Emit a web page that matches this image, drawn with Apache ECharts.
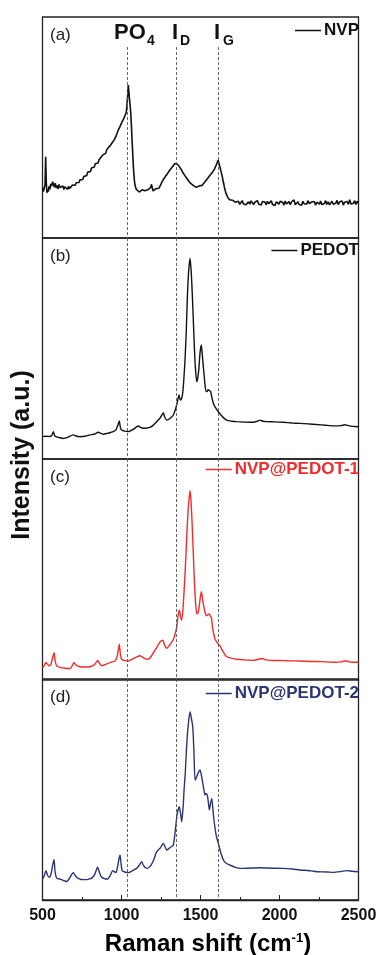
<!DOCTYPE html>
<html>
<head>
<meta charset="utf-8">
<script src="https://cdn.jsdelivr.net/npm/echarts@6/dist/echarts.min.js"></script>
<style>
html, body { margin: 0; padding: 0; background: #fff; }
#main { width: 381px; height: 955px; }
</style>
</head>
<body>
<div id="main"></div>
<script>
// spectra: [Raman shift (cm-1), intensity in a.u. (0-100 inside each panel)]
const nvp = [
  [500,22.6],[506,21],[512,23],[516,24],[520,36.8],[524,25],[528,20.5],[533,22],[537,21],[542,23.5],[547,22],[552,24.5],
  [558,23.5],[564,25.5],[569,24.5],[575,23],[581,24.8],[587,22.6],[593,23.8],[599,22.2],[605,24.2],[611,22.8],[617,23.6],
  [623,22],[629,23.5],[635,21.9],[641,23.2],[647,22.4],[653,23.6],[659,22],[665,23.4],[671,22.3],[677,23.2],[683,22.8],
  [689,24],[695,23.3],[701,24.5],[707,23.9],[713,25],[719,24.3],[725,25.6],[731,25.1],[737,26.3],[743,25.8],[749,27],
  [755,26.5],[761,27.8],[767,27.2],[773,28.6],[780,28.3],[786,29.8],[792,29.2],[798,30.6],[804,30.1],[810,31.7],[816,31.2],
  [822,32.5],[828,32.1],[834,33.6],[840,33],[846,34.4],[852,33.9],[858,35.4],[864,35],[870,36.5],[876,36.1],[882,37.6],
  [888,37.2],[894,38.5],[900,38.3],[906,39.8],[912,39.4],[918,41],[924,40.6],[930,42],[936,41.7],[942,43.2],[948,43],
  [954,44.4],[960,44.6],[966,46.2],[972,46.8],[978,48.6],[984,49],[990,50.4],[996,51.2],[1002,52.3],[1008,52.6],[1014,54],
  [1020,54.7],[1026,56.1],[1031,57.3],[1035,60.5],[1039,64.8],[1043,69.2],[1047,66],[1051,62.5],[1055,59.8],[1059,56],
  [1063,50.5],[1067,44],[1071,38.2],[1075,32.5],[1079,28.2],[1083,25.1],[1088,23.2],[1094,22],[1100,21.3],[1106,21.9],
  [1112,20.8],[1118,21.6],[1124,20.9],[1130,21.8],[1136,21.2],[1142,22.1],[1148,21.4],[1154,21.9],[1160,21.2],[1166,21.8],
  [1172,21.5],[1178,22.4],[1184,22.8],[1190,24.3],[1195,22.6],[1200,21.3],[1206,21.8],[1212,21.5],[1218,22.3],[1224,22],
  [1230,22.8],[1236,22.5],[1242,23.4],[1248,24],[1254,25.1],[1260,25.6],[1266,26.6],[1272,26.8],[1278,27.9],[1284,28.1],
  [1290,29],[1296,29.5],[1302,30.4],[1308,30.6],[1314,31.5],[1320,31.8],[1326,32.6],[1332,32.9],[1338,33.7],[1344,33.5],
  [1349,34.2],[1354,33.4],[1360,33.1],[1366,32.3],[1372,31.9],[1378,31],[1384,30.4],[1390,29.4],[1396,29],[1402,28.1],
  [1408,27.6],[1414,26.9],[1420,26.5],[1426,25.7],[1432,25.4],[1438,24.7],[1444,24.5],[1450,23.8],[1456,23.7],[1462,23.2],
  [1468,23.4],[1474,22.9],[1480,23.3],[1486,23],[1492,23.6],[1498,23.4],[1504,24],[1510,23.8],[1516,24.5],[1522,24.6],
  [1528,25.4],[1534,25.6],[1540,26.5],[1546,26.9],[1552,27.6],[1558,28],[1564,28.7],[1570,29.1],[1576,29.8],[1582,30.3],
  [1588,31.2],[1594,32],[1600,33.1],[1606,34.2],[1611,35.3],[1616,34.1],[1621,32.6],[1626,31.3],[1631,29.8],[1636,28.4],
  [1641,26.6],[1646,24.9],[1651,23.1],[1656,21.6],[1661,20.3],[1666,19.4],[1672,18.5],[1678,17.9],[1684,17.3],[1690,17.4],
  [1696,16.8],[1702,17.1],[1708,16.3],[1714,16.9],[1720,16.2],[1726,16.7],
  [1732,15.9],[1740,16.6],[1748,15.2],[1756,15.8],[1764,16.9],[1772,15.4],[1780,16.1],[1788,15.0],[1796,15.7],[1804,16.4],
  [1812,15.3],[1820,16.8],[1828,15.9],[1836,15.1],[1844,16.2],[1852,15.6],[1860,16.9],[1868,15.4],[1876,16.0],[1884,14.9],
  [1892,16.5],[1900,15.8],[1908,16.3],[1916,15.0],[1924,16.6],[1932,15.5],[1940,15.9],[1948,16.8],[1956,15.2],[1964,16.1],
  [1972,14.7],[1980,16.4],[1988,15.7],[1996,15.3],[2004,16.6],[2012,15.8],[2020,16.2],[2028,14.9],[2036,16.7],[2044,15.4],
  [2052,15.9],[2060,16.5],[2068,15.1],[2076,16.3],[2084,15.6],[2092,17.2],[2100,15.0],[2108,15.8],[2116,16.4],[2124,15.2],
  [2132,16.0],[2140,14.8],[2148,16.6],[2156,15.5],[2164,16.1],[2172,15.3],[2180,16.9],[2188,15.6],[2196,15.0],[2204,16.3],
  [2212,15.7],[2220,16.5],[2228,14.9],[2236,16.2],[2244,15.8],[2252,15.3],[2260,16.7],[2268,15.1],[2276,16.0],[2284,15.6],
  [2292,16.9],[2300,15.2],[2308,16.4],[2316,15.0],[2324,15.9],[2332,16.6],[2340,15.3],[2348,16.1],[2356,15.7],[2364,17.0],
  [2372,15.1],[2380,16.3],[2388,15.5],[2396,16.8],[2404,14.9],[2412,16.2],[2420,15.6],[2428,16.5],[2436,15.2],[2444,17.3],
  [2452,15.4],[2460,16.0],[2468,15.7],[2476,16.9],[2484,15.2],[2492,16.6],[2500,15.8]
];
const pedot = [
  [500,10.1],[520,10.3],[547,10.2],[560,10.8],[569,12.4],[577,10.6],[585,10.1],[610,9.6],[632,9.3],[660,9.8],[695,10.9],
  [715,10.3],[737,10.1],[770,10.3],[801,10.9],[830,11.3],[853,12.1],[870,11.6],[885,11.2],[910,11.6],[935,12.1],[948,12.4],
  [965,13.2],[978,15.5],[986,17.2],[993,14.2],[1001,13.1],[1020,12.6],[1043,12.4],[1060,12.9],[1075,13.4],[1095,14.5],
  [1107,14.9],[1120,14.3],[1138,13.9],[1160,14],[1180,14.3],[1200,15.2],[1223,16.9],[1245,18.6],[1258,20.2],[1265,21],
  [1272,19.3],[1286,17.6],[1300,18],[1315,18.9],[1328,19.9],[1340,22.2],[1349,24.4],[1357,27],[1364,29],[1369,27.5],
  [1374,26.7],[1381,27.5],[1387,29.7],[1394,35.5],[1402,44.8],[1410,58],[1417,73.4],[1425,85],[1434,90.8],[1440,86],
  [1446,78],[1454,64],[1461,50.8],[1468,41],[1476,35],[1482,36.5],[1489,40.3],[1497,48],[1505,51.6],[1511,47.5],
  [1518,41.8],[1526,35.5],[1535,30.5],[1542,30.6],[1549,31.4],[1556,31],[1564,30.5],[1572,27.8],[1581,25.2],[1595,23.2],
  [1613,21.4],[1635,19.5],[1665,17.6],[1700,17.1],[1729,16.9],[1780,16.7],[1834,16.6],[1860,17.1],[1876,17.6],[1895,17.1],
  [1918,16.9],[1970,16.8],[2024,16.6],[2080,16.3],[2130,16.1],[2180,15.9],[2235,15.6],[2290,15.3],[2341,15],[2390,15.1],
  [2412,15.5],[2425,15.3],[2450,14.9],[2475,14.7],[2500,14.6]
];
const nvpPedot1 = [
  [500,5.6],[510,6.5],[522,7.9],[532,7.1],[543,6.4],[555,7.4],[565,10.5],[573,12.4],[580,8.5],[590,6.4],[615,5.6],[642,5.3],
  [674,5.2],[688,6.4],[699,7.9],[712,6.8],[737,6],[770,5.9],[801,6],[830,7],[849,8.9],[860,7.6],[874,6.4],[900,7.1],
  [927,7.9],[959,8.6],[972,10.5],[980,13.8],[986,16.2],[993,11.5],[1001,9.4],[1020,8.8],[1043,8.6],[1070,9.5],[1096,10.5],
  [1118,11],[1130,10.5],[1150,9.6],[1170,9.4],[1195,11.5],[1223,14.7],[1245,17.3],[1261,18],[1272,16],[1286,14.4],
  [1305,15.8],[1328,18.3],[1340,21],[1349,23.8],[1358,29],[1366,31.7],[1374,28.6],[1381,27],[1390,33],[1402,48],[1410,60],
  [1417,70.8],[1425,80],[1434,85.6],[1440,81],[1446,72.3],[1454,58],[1461,45],[1468,36],[1476,29.9],[1484,30.3],
  [1491,32.9],[1499,37.5],[1506,40],[1514,36],[1522,32.9],[1530,30.2],[1539,29.1],[1548,29.6],[1556,29.9],[1563,28.8],
  [1569,28.3],[1577,23.5],[1592,18.5],[1610,16.5],[1623,15.5],[1645,12.5],[1666,10.5],[1700,9.8],[1729,9.4],[1780,9.1],
  [1834,8.9],[1860,9.3],[1887,9.7],[1915,9.1],[1940,8.9],[2000,8.8],[2060,8.7],[2130,8.6],[2200,8.4],[2270,8.3],
  [2341,8],[2390,8.2],[2410,8.6],[2425,8.6],[2450,8.1],[2500,8]
];
const nvpPedot2 = [
  [500,9.4],[511,11],[522,13.3],[532,11.2],[543,10.3],[555,12],[565,16],[573,18.4],[580,12.5],[590,9.9],[605,9.5],
  [621,9.2],[640,8.6],[653,8.4],[668,9.5],[684,11.5],[695,12.4],[710,10.8],[737,9.4],[760,9.2],[780,9.2],[795,9.5],
  [811,9.9],[830,11.5],[849,14.8],[860,12.5],[874,10.3],[895,9.6],[910,9.4],[928,11],[944,13.3],[955,12.8],[965,12.4],
  [975,15],[985,19],[991,20.4],[998,16],[1005,13.2],[1016,12.8],[1043,12.4],[1075,13.5],[1096,14.3],[1115,16],[1128,17.3],
  [1140,15.5],[1159,14.3],[1180,15.1],[1200,17.5],[1223,21.9],[1244,23.4],[1265,25.6],[1275,24.2],[1286,22.6],[1305,23.6],
  [1328,24.9],[1343,33.2],[1353,39.2],[1366,42.2],[1374,39],[1381,35.4],[1390,42],[1396,49.8],[1404,58],[1412,69.4],
  [1422,79],[1434,85.2],[1444,81.5],[1451,78.4],[1458,68],[1465,54.3],[1472,55],[1480,56.6],[1490,58.2],[1497,58.8],
  [1504,57],[1511,54.3],[1520,50.5],[1528,47.5],[1535,48.2],[1543,47.5],[1550,44],[1556,40.7],[1563,43.5],[1571,46],
  [1578,41.5],[1585,36.2],[1600,29],[1613,25.6],[1628,21.5],[1645,18.1],[1665,16.5],[1687,15.8],[1720,14.8],[1750,14.3],
  [1800,14.4],[1876,14.6],[1950,14.4],[2024,14.3],[2080,14],[2130,13.6],[2200,13.2],[2235,12.8],[2300,12.7],[2341,12.5],
  [2390,12.9],[2425,13.3],[2460,13],[2500,12.8]
];

const seriesNames = ['NVP', 'PEDOT', 'NVP@PEDOT-1', 'NVP@PEDOT-2'];
const seriesColors = ['#111111', '#111111', '#ef2d2d', '#2c3573'];
const panelTags = ['(a)', '(b)', '(c)', '(d)'];
const refShifts = [1037, 1347, 1610]; // PO4, I_D, I_G

const spectra = [nvp, pedot, nvpPedot1, nvpPedot2];
const font = 'Liberation Sans, Arial, sans-serif';
const axisColor = '#222';
const panelTop = [17, 238, 459, 679];
const panelH = 221;
const legendTop = [22, 242, 461, 685];

const chart = echarts.init(document.getElementById('main'));

const grids = [], xAxes = [], yAxes = [], series = [], legends = [];
spectra.forEach((data, i) => {
  const last = i === spectra.length - 1;
  grids.push({
    left: 42.5, right: 22.5, top: panelTop[i], height: panelH,
    show: true, borderColor: axisColor, borderWidth: 1.3, backgroundColor: 'transparent'
  });
  xAxes.push({
    gridIndex: i, type: 'value', min: 500, max: 2500, interval: 500,
    axisLine: { show: last, lineStyle: { color: axisColor, width: 1.3 } },
    axisTick: { show: last, inside: true, length: 5, lineStyle: { color: axisColor } },
    minorTick: { show: last, splitNumber: 2, length: 3, lineStyle: { color: axisColor } },
    splitLine: { show: false },
    axisLabel: {
      show: last, fontSize: 16, fontWeight: 'bold', color: '#111', fontFamily: font, margin: 8,
      formatter: v => String(v)
    }
  });
  yAxes.push({ gridIndex: i, type: 'value', min: 0, max: 100, show: false, splitLine: { show: false } });
  const top = i === 0 ? 86.4 : 100;
  series.push({
    name: seriesNames[i], type: 'line', xAxisIndex: i, yAxisIndex: i, data: data,
    showSymbol: false, symbol: 'none', smooth: i === 0 ? false : 0.2,
    lineStyle: { color: seriesColors[i], width: i === 0 ? 1.6 : 1.4 },
    itemStyle: { color: seriesColors[i] },
    animation: false, silent: true,
    markLine: {
      silent: true, symbol: ['none', 'none'], animation: false,
      label: { show: false },
      lineStyle: { color: '#555', width: 0.9, type: [3, 2] },
      data: refShifts.map(s => [{ coord: [s, top] }, { coord: [s, 0] }])
    }
  });
  legends.push({
    data: [seriesNames[i]], right: 22, top: legendTop[i], padding: 0,
    icon: 'rect', itemWidth: 26, itemHeight: 1.5, selectedMode: false,
    textStyle: { fontSize: 17, fontWeight: 'bold', color: seriesColors[i], fontFamily: font, padding: [0, 0, 0, -2] }
  });
});

const bold = { fontFamily: font, fontWeight: 'bold', fill: '#111' };
const graphics = [];
panelTags.forEach((t, i) => {
  graphics.push({ type: 'text', left: 50, top: panelTop[i] + 10,
    style: { text: t, fontSize: 17, fontFamily: font, fill: '#222' } });
});
// peak annotations
graphics.push(
  { type: 'text', x: 114, y: 33, style: Object.assign({ text: 'PO', fontSize: 22, verticalAlign: 'middle' }, bold) },
  { type: 'text', x: 147, y: 41.5, style: Object.assign({ text: '4', fontSize: 14, verticalAlign: 'middle' }, bold) },
  { type: 'text', x: 172, y: 33, style: Object.assign({ text: 'I', fontSize: 22, verticalAlign: 'middle' }, bold) },
  { type: 'text', x: 180, y: 41.5, style: Object.assign({ text: 'D', fontSize: 14, verticalAlign: 'middle' }, bold) },
  { type: 'text', x: 214, y: 33, style: Object.assign({ text: 'I', fontSize: 22, verticalAlign: 'middle' }, bold) },
  { type: 'text', x: 223, y: 41.5, style: Object.assign({ text: 'G', fontSize: 14, verticalAlign: 'middle' }, bold) }
);
// axis names
graphics.push({
  type: 'text', x: 22, y: 455, rotation: Math.PI / 2,
  style: Object.assign({ text: 'Intensity (a.u.)', fontSize: 25, align: 'center', verticalAlign: 'middle' }, bold)
});
graphics.push({
  type: 'text', x: 208, y: 944,
  style: {
    text: '{n|Raman shift (cm}{s|-1}{n|)}', align: 'center', verticalAlign: 'middle',
    rich: {
      n: { fontSize: 24, fontWeight: 'bold', fontFamily: font, color: '#111', verticalAlign: 'bottom' },
      s: { fontSize: 13, fontWeight: 'bold', fontFamily: font, color: '#111', verticalAlign: 'top' }
    }
  }
});

chart.setOption({
  animation: false,
  grid: grids,
  xAxis: xAxes,
  yAxis: yAxes,
  legend: legends,
  series: series,
  graphic: graphics
});
</script>
</body>
</html>
